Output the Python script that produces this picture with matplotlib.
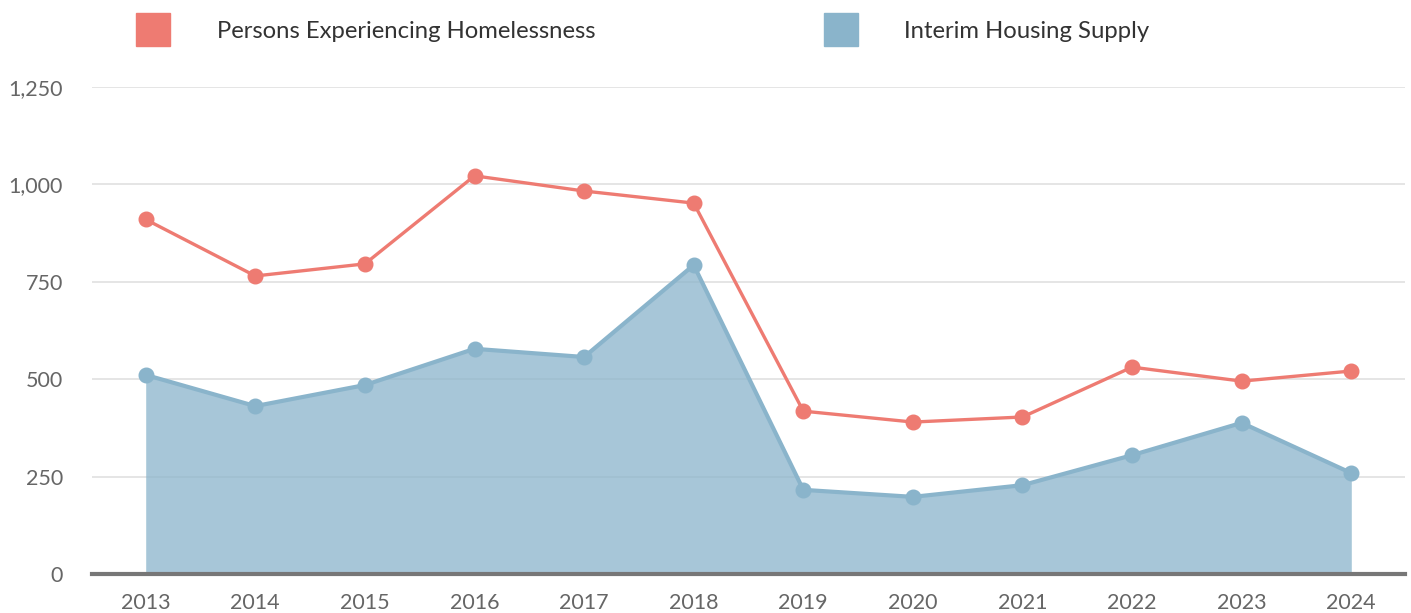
import numpy as np
import matplotlib.pyplot as plt
from matplotlib.patches import Rectangle
from matplotlib.ticker import FuncFormatter

years = ["2013", "2014", "2015", "2016", "2017", "2018",
         "2019", "2020", "2021", "2022", "2023", "2024"]
homeless = [910, 765, 796, 1022, 983, 952, 418, 390, 403, 531, 495, 521]
interim = [511, 431, 485, 578, 557, 793, 216, 198, 228, 305, 388, 259]

RED = "#ee7b72"
BLUE = "#8ab4cb"

plt.rcParams['font.family'] = ['Lato', 'DejaVu Sans']

fig = plt.figure(figsize=(14.11, 6.13), dpi=100)
ax = fig.add_axes([92 / 1411, 1 - 574 / 613, (1405 - 92) / 1411, (574 - 87) / 613])

x = np.arange(len(years))

# gridlines sit under a semi-transparent fill
for v in [250, 500, 750, 1000, 1250]:
    ax.axhline(v, color="#e3e3e3", lw=1.3, zorder=0)

ax.fill_between(x, interim, 0, color=BLUE, alpha=0.75, lw=0, zorder=1)
ax.plot(x, interim, color=BLUE, lw=3, marker="o", ms=10.5, zorder=3)
ax.plot(x, homeless, color=RED, lw=2.4, marker="o", ms=10.5, zorder=4)

ax.set_xlim(-0.49, 11.49)
ax.set_ylim(0, 1250)
ax.set_xticks(x)
ax.set_xticklabels(years)
ax.set_yticks([0, 250, 500, 750, 1000, 1250])
ax.yaxis.set_major_formatter(FuncFormatter(lambda v, p: f"{int(v):,}"))

for s in ["top", "right", "left"]:
    ax.spines[s].set_visible(False)
ax.spines["bottom"].set_color("#777777")
ax.spines["bottom"].set_linewidth(3)
ax.spines["bottom"].set_zorder(5)

ax.tick_params(axis="both", length=0, labelsize=15.5, colors="#666666")
ax.tick_params(axis="y", pad=21)
ax.tick_params(axis="x", pad=14)

# legend along the top
for (x0, tx, label, col) in [(136, 217, "Persons Experiencing Homelessness", RED),
                             (824, 904, "Interim Housing Supply", BLUE)]:
    fig.patches.append(Rectangle((x0 / 1411, 1 - 46 / 613), 34 / 1411, 33 / 613,
                                 transform=fig.transFigure, color=col))
    fig.text(tx / 1411, 1 - 31.5 / 613, label, fontsize=17.2, color="#333333",
             va="center", ha="left")

fig.savefig("out.png", dpi=100)
